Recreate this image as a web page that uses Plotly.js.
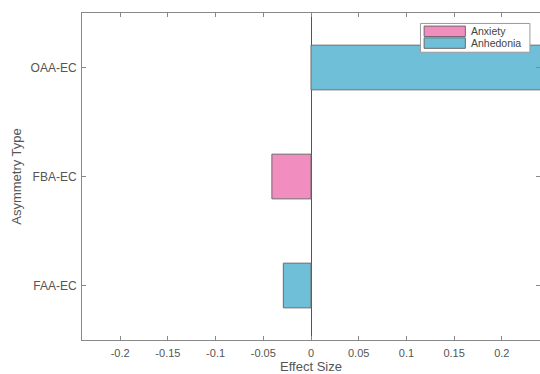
<!DOCTYPE html>
<html>
<head>
<meta charset="utf-8">
<script src="https://cdn.plot.ly/plotly-3.0.1.min.js"></script>
<style>html,body{margin:0;padding:0;background:#fff;}#chart{width:540px;height:374px;}</style>
</head>
<body>
<div id="chart"></div>
<script>
const categories = ["FAA-EC", "FBA-EC", "OAA-EC"];
const seriesNames = ["Anxiety", "Anhedonia"];
const anxietyValues = [null, -0.041, null];
const anhedoniaValues = [-0.029, null, 0.26];
const xTickValues = [-0.2, -0.15, -0.1, -0.05, 0, 0.05, 0.1, 0.15, 0.2];
const xTickLabels = ["-0.2", "-0.15", "-0.1", "-0.05", "0", "0.05", "0.1", "0.15", "0.2"];

const colors = ["#F28DC0", "#6FBFD8"];
const edge = "#6a6a6a";

const traces = [anxietyValues, anhedoniaValues].map((vals, i) => ({
  type: "bar",
  orientation: "h",
  name: seriesNames[i],
  y: categories,
  x: vals,
  width: 0.41,
  marker: {color: colors[i], line: {color: edge, width: 1}},
  showlegend: false,
  hoverinfo: "x+y"
}));

const shapes = [
  {type: "rect", xref: "paper", yref: "paper", x0: 0.739, x1: 0.978, y0: 0.880, y1: 0.968,
   fillcolor: "#ffffff", line: {color: "#9a9a9a", width: 1}, layer: "above"}
];
const annotations = [];
seriesNames.forEach((n, i) => {
  const yTop = 0.960 - i * 0.036;
  shapes.push({type: "rect", xref: "paper", yref: "paper", x0: 0.747, x1: 0.837,
    y0: yTop - 0.032, y1: yTop, fillcolor: colors[i], line: {color: edge, width: 1}, layer: "above"});
  annotations.push({xref: "paper", yref: "paper", x: 0.845, y: yTop - 0.016, text: n,
    showarrow: false, xanchor: "left", yanchor: "middle",
    font: {family: "Liberation Sans, Arial, sans-serif", size: 10.5, color: "#444"}});
});

const layout = {
  width: 540, height: 374,
  margin: {l: 82, r: 0, t: 13, b: 34, pad: 0},
  paper_bgcolor: "#ffffff", plot_bgcolor: "#ffffff",
  barmode: "overlay",
  font: {family: "Liberation Sans, Arial, sans-serif", size: 11, color: "#555"},
  xaxis: {
    range: [-0.24, 0.24],
    tickvals: xTickValues, ticktext: xTickLabels,
    ticks: "inside", ticklen: 4, tickcolor: "#888", tickwidth: 1,
    showline: true, linecolor: "#888", linewidth: 1, mirror: "ticks",
    showgrid: false, zeroline: true, zerolinecolor: "#555", zerolinewidth: 1,
    title: {text: "Effect Size", font: {size: 13, color: "#555"}, standoff: 0},
    ticklabelstandoff: 3
  },
  yaxis: {
    range: [-0.5, 2.5],
    type: "category",
    categoryorder: "array", categoryarray: categories,
    tickfont: {size: 12},
    ticks: "inside", ticklen: 4, tickcolor: "#888", tickwidth: 1,
    showline: true, linecolor: "#888", linewidth: 1, mirror: "ticks",
    showgrid: false, zeroline: false,
    ticklabelstandoff: 2,
    title: {text: "Asymmetry Type", font: {size: 13, color: "#555"}, standoff: 6}
  },
  shapes: shapes,
  annotations: annotations
};

Plotly.newPlot("chart", traces, layout, {displayModeBar: false, staticPlot: true});
</script>
</body>
</html>
